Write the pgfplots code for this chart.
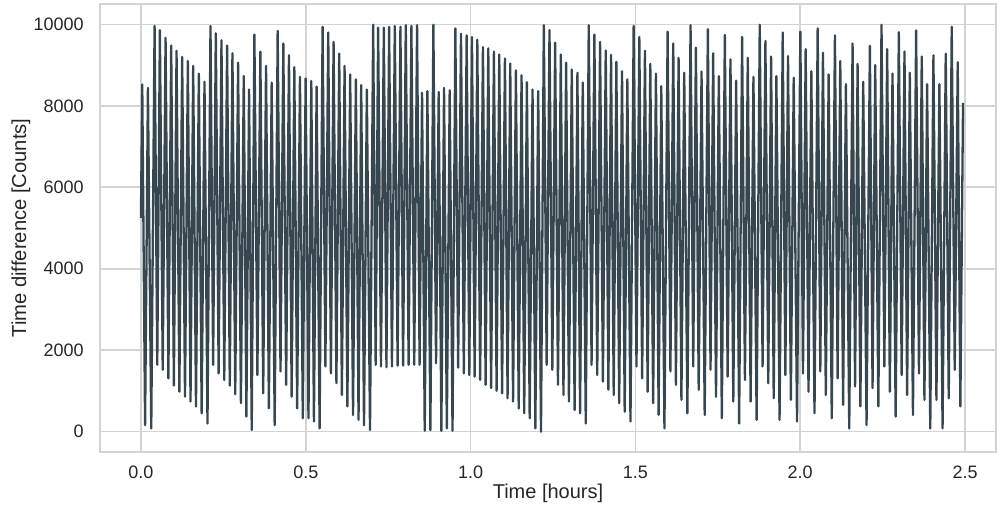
\documentclass[border=0pt]{standalone}
\usepackage{fontspec}
\setmainfont{Liberation Sans}
\usepackage{pgfplots}
\pgfplotsset{compat=1.18}
\usepackage{pgfplotstable}
\usetikzlibrary{calc}
\definecolor{linec}{HTML}{37474F}
\definecolor{gridc}{HTML}{D3D3D3}
\definecolor{txt}{HTML}{262626}

\pgfplotstableread[row sep=\\]{
t y\\
0.0000 5250\\
0.0040 8520\\ 0.0126 160\\
0.0212 8440\\ 0.0313 80\\
0.0414 9960\\ 0.0495 1640\\
0.0575 9860\\ 0.0661 1520\\
0.0747 9670\\ 0.0833 1310\\
0.0918 9480\\ 0.0999 1130\\
0.1080 9350\\ 0.1166 980\\
0.1251 9200\\ 0.1337 860\\
0.1423 9100\\ 0.1504 740\\
0.1585 8980\\ 0.1670 620\\
0.1756 8790\\ 0.1842 450\\
0.1928 8590\\ 0.2019 200\\
0.2110 9960\\ 0.2190 1640\\
0.2271 9780\\ 0.2357 1430\\
0.2443 9610\\ 0.2528 1270\\
0.2614 9480\\ 0.2695 1130\\
0.2776 9290\\ 0.2861 920\\
0.2947 9060\\ 0.3033 700\\
0.3119 8730\\ 0.3199 370\\
0.3280 8400\\ 0.3361 40\\
0.3442 9750\\ 0.3533 1390\\
0.3623 9330\\ 0.3709 940\\
0.3795 8980\\ 0.3881 570\\
0.3966 8570\\ 0.4057 160\\
0.4148 9840\\ 0.4234 1480\\
0.4320 9530\\ 0.4405 1150\\
0.4491 9240\\ 0.4572 860\\
0.4653 8950\\ 0.4739 570\\
0.4824 8710\\ 0.4910 330\\
0.4996 8670\\ 0.5082 330\\
0.5168 8610\\ 0.5248 250\\
0.5329 8470\\ 0.5420 80\\
0.5511 9940\\ 0.5596 1600\\
0.5682 9800\\ 0.5763 1430\\
0.5844 9570\\ 0.5930 1190\\
0.6015 9280\\ 0.6096 900\\
0.6177 8980\\ 0.6263 620\\
0.6348 8770\\ 0.6434 410\\
0.6520 8650\\ 0.6601 290\\
0.6682 8510\\ 0.6767 160\\
0.6853 8400\\ 0.6949 40\\
0.7045 9990\\ 0.7121 1640\\
0.7196 9920\\ 0.7282 1600\\
0.7368 9920\\ 0.7448 1580\\
0.7529 9940\\ 0.7615 1600\\
0.7701 9960\\ 0.7786 1620\\
0.7872 9940\\ 0.7953 1620\\
0.8034 9980\\ 0.8120 1640\\
0.8205 9960\\ 0.8291 1640\\
0.8377 9980\\ 0.8453 1640\\
0.8528 8320\\ 0.8609 20\\
0.8690 8360\\ 0.8781 40\\
0.8872 9990\\ 0.8952 1680\\
0.9033 8340\\ 0.9114 20\\
0.9195 8440\\ 0.9280 80\\
0.9366 8380\\ 0.9452 20\\
0.9538 9900\\ 0.9623 1570\\
0.9709 9770\\ 0.9795 1430\\
0.9881 9730\\ 0.9961 1390\\
1.0042 9690\\ 1.0123 1350\\
1.0204 9620\\ 1.0290 1270\\
1.0375 9440\\ 1.0456 1150\\
1.0537 9410\\ 1.0623 1070\\
1.0708 9330\\ 1.0789 1000\\
1.0870 9260\\ 1.0956 940\\
1.1042 9160\\ 1.1122 820\\
1.1203 9040\\ 1.1289 740\\
1.1375 8870\\ 1.1460 570\\
1.1546 8750\\ 1.1627 450\\
1.1708 8580\\ 1.1793 330\\
1.1879 8400\\ 1.1965 80\\
1.2051 8360\\ 1.2136 0\\
1.2222 9980\\ 1.2308 1640\\
1.2394 9860\\ 1.2480 1520\\
1.2565 9550\\ 1.2651 1150\\
1.2737 9260\\ 1.2818 900\\
1.2898 9060\\ 1.2984 740\\
1.3070 8890\\ 1.3156 530\\
1.3241 8810\\ 1.3322 450\\
1.3403 8570\\ 1.3494 200\\
1.3585 9980\\ 1.3670 1640\\
1.3756 9750\\ 1.3842 1390\\
1.3928 9570\\ 1.4014 1230\\
1.4100 9360\\ 1.4180 1030\\
1.4261 9250\\ 1.4342 900\\
1.4422 9080\\ 1.4508 700\\
1.4594 8850\\ 1.4675 490\\
1.4755 8650\\ 1.4851 250\\
1.4947 9960\\ 1.5033 1600\\
1.5119 9690\\ 1.5205 1310\\
1.5290 9350\\ 1.5371 980\\
1.5452 9030\\ 1.5538 700\\
1.5623 8790\\ 1.5704 410\\
1.5785 8480\\ 1.5881 80\\
1.5977 9820\\ 1.6062 1480\\
1.6148 9530\\ 1.6229 1150\\
1.6310 9180\\ 1.6396 780\\
1.6481 8810\\ 1.6577 450\\
1.6673 9980\\ 1.6754 1600\\
1.6835 9430\\ 1.6920 1030\\
1.7006 8840\\ 1.7102 410\\
1.7198 9880\\ 1.7279 1520\\
1.7359 9290\\ 1.7445 860\\
1.7531 8730\\ 1.7622 330\\
1.7713 9740\\ 1.7798 1350\\
1.7884 9140\\ 1.7970 740\\
1.8056 8620\\ 1.8147 200\\
1.8237 9690\\ 1.8323 1270\\
1.8409 9180\\ 1.8495 740\\
1.8581 8710\\ 1.8677 290\\
1.8772 9990\\ 1.8858 1600\\
1.8944 9590\\ 1.9030 1190\\
1.9116 9210\\ 1.9196 820\\
1.9277 8730\\ 1.9373 290\\
1.9469 9800\\ 1.9549 1390\\
1.9630 9220\\ 1.9716 780\\
1.9802 8690\\ 1.9903 250\\
2.0004 9820\\ 2.0084 1430\\
2.0165 9390\\ 2.0251 980\\
2.0337 8850\\ 2.0433 450\\
2.0529 9900\\ 2.0609 1480\\
2.0690 9300\\ 2.0776 900\\
2.0862 8770\\ 2.0957 330\\
2.1053 9730\\ 2.1134 1310\\
2.1215 9100\\ 2.1301 660\\
2.1386 8530\\ 2.1487 80\\
2.1588 9530\\ 2.1664 1110\\
2.1740 9030\\ 2.1825 620\\
2.1911 8590\\ 2.2012 160\\
2.2113 9470\\ 2.2194 1070\\
2.2275 9000\\ 2.2370 620\\
2.2466 9990\\ 2.2552 1600\\
2.2638 9390\\ 2.2719 980\\
2.2799 8790\\ 2.2895 370\\
2.2991 9810\\ 2.3077 1390\\
2.3163 9330\\ 2.3243 900\\
2.3324 8810\\ 2.3420 410\\
2.3516 9850\\ 2.3602 1430\\
2.3687 9210\\ 2.3768 780\\
2.3849 8530\\ 2.3945 80\\
2.4041 9240\\ 2.4132 780\\
2.4222 8530\\ 2.4318 80\\
2.4414 9280\\ 2.4505 820\\
2.4596 9940\\ 2.4687 1520\\
2.4778 9070\\ 2.4858 620\\
2.4939 8070\\
}\rawdata

\begin{document}
\begin{tikzpicture}
\begin{axis}[
  name=ax,
  scale only axis,
  width=448pt, height=224pt,
  xmin=-0.1242, xmax=2.5939,
  ymin=-500, ymax=10500,
  xtick={0,0.5,1,1.5,2,2.5},
  ytick={0,2000,4000,6000,8000,10000},
  scaled y ticks=false,
  major tick length=0pt,
  grid=major,
  major grid style={draw=gridc, line width=0.8pt},
  axis line style={draw=gridc, line width=1pt},
  /pgf/number format/assume math mode=true,
  xticklabel style={/pgf/number format/fixed, /pgf/number format/fixed zerofill, /pgf/number format/precision=1},
  yticklabel style={/pgf/number format/1000 sep={}},
  tick label style={font=\fontsize{9}{11}\selectfont, text=txt},
  xticklabel style={anchor=base, inner sep=0pt, yshift=-13.5pt},
  yticklabel style={anchor=east, inner sep=0pt, xshift=-8pt},
  xlabel={Time [hours]},
  ylabel={Time difference [Counts]},
  xlabel style={font=\fontsize{10}{12}\selectfont, text=txt, at={(axis description cs:0.5,0)}, anchor=base, inner sep=0pt, yshift=-23.5pt},
  ylabel style={font=\fontsize{10.1}{12}\selectfont, text=txt, at={(axis description cs:0,0.5)}, anchor=center, inner sep=0pt, yshift=39.5pt},
]
\addplot[draw=linec, line width=1.15pt, line join=round, mark=none]
  table[x=t, y=y] {\rawdata};
\end{axis}
\pgfresetboundingbox
\path ($(ax.south west)+(-50pt,-28pt)$) rectangle ($(ax.north east)+(0.5pt,2pt)$);
\end{tikzpicture}
\end{document}
